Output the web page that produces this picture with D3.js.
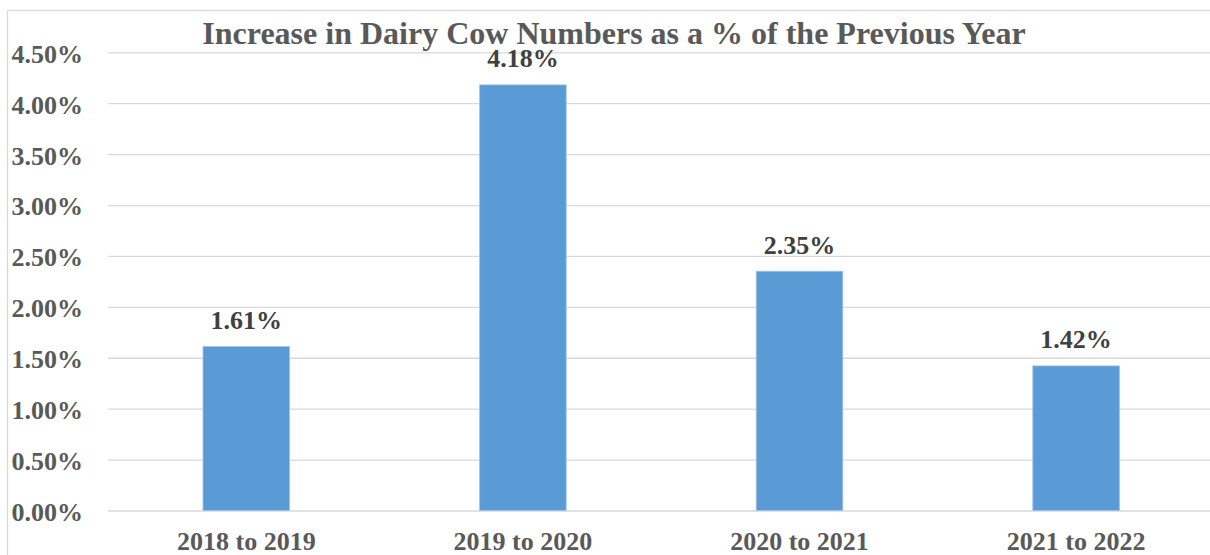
<!DOCTYPE html>
<html>
<head>
<meta charset="utf-8">
<script src="https://cdn.jsdelivr.net/npm/d3@7"></script>
<style>
  html, body { margin: 0; padding: 0; background: #fff; overflow: hidden; }
  text { font-family: "Liberation Serif", "Times New Roman", serif; font-weight: bold; }
</style>
</head>
<body>
<div id="root"></div>
<script>
const title = 'Increase in Dairy Cow Numbers as a % of the Previous Year'
const categories = ['2018 to 2019', '2019 to 2020', '2020 to 2021', '2021 to 2022']
const values = [0.0161, 0.0418, 0.0235, 0.0142]
const yTicks = [0, 0.005, 0.01, 0.015, 0.02, 0.025, 0.03, 0.035, 0.04, 0.045]

const width = 1210
const height = 555
const plotLeft = 108
const plotRight = 1214.4
const plotTop = 52.3
const plotBottom = 510.5

const svg = d3.select('#root').append('svg')
  .attr('width', width)
  .attr('height', height)

// chart frame
svg.append('rect')
  .attr('x', 7.5)
  .attr('y', 10.5)
  .attr('width', 1220)
  .attr('height', 570)
  .attr('fill', '#fff')
  .attr('stroke', '#d9d9d9')
  .attr('stroke-width', 1.3)

const x = d3.scaleBand().domain(categories).range([ plotLeft, plotRight ])
  .paddingInner(0.687).paddingOuter(0.3435)
const y = d3.scaleLinear().domain([ 0, 0.045 ]).range([ plotBottom, plotTop ])

const pct = d3.format('.2%')

// gridlines + y labels
const yAxis = svg.append('g')
  .attr('transform', 'translate(' + plotLeft + ',0)')
  .call(d3.axisLeft(y).tickValues(yTicks).tickFormat(pct).tickSize(-(plotRight - plotLeft)).tickPadding(25))
yAxis.select('.domain').remove()
yAxis.selectAll('line').attr('stroke', '#d9d9d9').attr('stroke-width', 1.3)
yAxis.selectAll('text')
  .attr('fill', '#595959')
  .attr('font-size', '26px')
  .attr('dy', '0.38em')

// x labels
const xAxis = svg.append('g')
  .attr('transform', 'translate(0,' + plotBottom + ')')
  .call(d3.axisBottom(x).tickSize(0).tickPadding(39))
xAxis.select('.domain').remove()
xAxis.selectAll('text')
  .attr('fill', '#595959')
  .attr('font-size', '26px')
  .attr('dy', 0)

// bars
svg.append('g').selectAll('rect')
  .data(values)
  .enter()
  .append('rect')
  .attr('x', (d, i) => x(categories[i]))
  .attr('y', d => y(d))
  .attr('width', x.bandwidth())
  .attr('height', d => plotBottom - y(d))
  .attr('fill', '#5b9bd5')
  .attr('stroke', '#9fc3e8')
  .attr('stroke-width', 0.8)

// data labels
svg.append('g').selectAll('text')
  .data(values)
  .enter()
  .append('text')
  .attr('x', (d, i) => x(categories[i]) + x.bandwidth() / 2)
  .attr('y', d => y(d) - 17.5)
  .attr('text-anchor', 'middle')
  .attr('fill', '#404040')
  .attr('font-size', '26px')
  .text(d => pct(d))

// title
svg.append('text')
  .attr('x', 614)
  .attr('y', 44)
  .attr('text-anchor', 'middle')
  .attr('fill', '#595959')
  .attr('font-size', '32px')
  .text(title)
</script>
</body>
</html>
